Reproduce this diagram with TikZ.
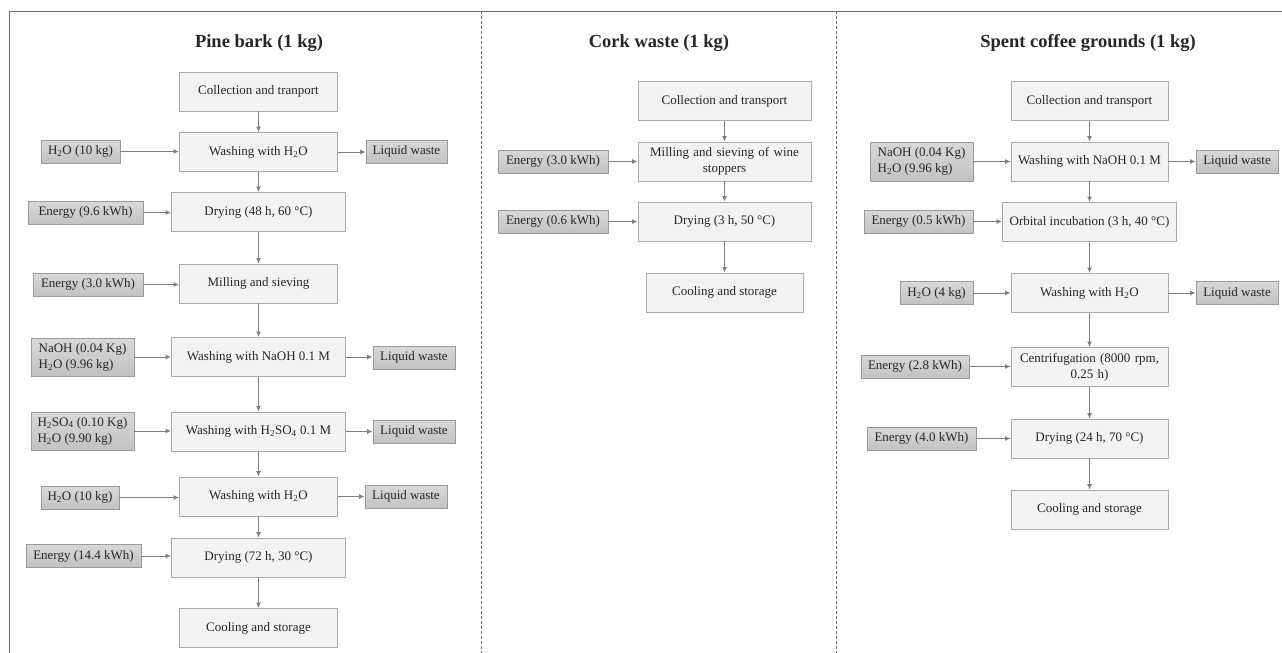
\documentclass[tikz,border=0pt]{standalone}
\usepackage{fontspec}
\setmainfont{Liberation Serif}
\usetikzlibrary{arrows.meta}
\definecolor{procfill}{HTML}{F2F3F3}
\definecolor{procdraw}{HTML}{ABABAB}
\definecolor{inpdraw}{HTML}{9A9A9A}
\definecolor{arrcol}{HTML}{7F7F7F}
\definecolor{txt}{HTML}{262626}
\definecolor{framecol}{HTML}{6E6E6E}
\tikzset{
  proc/.style={draw=procdraw, line width=0.9pt, fill=procfill, inner sep=1pt, align=center,
    font=\fontsize{13}{16}\selectfont, text=txt, minimum height=39pt},
  inp/.style={draw=inpdraw, line width=0.9pt, top color=black!15, bottom color=black!24, inner sep=1pt,
    align=left, font=\fontsize{13}{16}\selectfont, text=txt, minimum height=23pt},
  title/.style={font=\bfseries\fontsize{18.5}{20}\selectfont, text=txt},
  arr/.style={draw=arrcol, line width=1pt, -{Latex[length=5.5pt,width=5pt]}},
  sep/.style={draw=framecol, line width=0.9pt, dash pattern=on 2.6pt off 2.4pt},
  frame/.style={draw=framecol, line width=1pt}
}
\newcommand{\HtwoO}{H\textsubscript{2}O}
\begin{document}
\begin{tikzpicture}[x=1pt,y=-1pt]
\useasboundingbox (0,0) rectangle (1282,653);
\fill[white] (0,0) rectangle (1282,653);
% frame
\coordinate (ftl) at (9,11);
\coordinate (ftr) at (1282,11);
\coordinate (fbl) at (9,653);
\draw[frame] (ftr) -- (ftl) -- (fbl);
\coordinate (d1t) at (481,11); \coordinate (d1b) at (481,653);
\coordinate (d2t) at (836,11); \coordinate (d2b) at (836,653);
\draw[sep] (d1t) -- (d1b);
\draw[sep] (d2t) -- (d2b);

% ---------------- Pine bark
\node[title] (tp) at (259,43) {Pine bark (1 kg)};
\node[proc, minimum width=158pt] (p1) at (258.5,91.5) {Collection and tranport};
\node[proc, minimum width=158pt] (p2) at (258.5,152) {Washing with \HtwoO};
\node[proc, minimum width=174pt] (p3) at (258.5,212) {Drying (48 h, 60 °C)};
\node[proc, minimum width=158pt] (p4) at (258.5,283.5) {Milling and sieving};
\node[proc, minimum width=174pt] (p5) at (258.5,357) {Washing with NaOH 0.1 M};
\node[proc, minimum width=174pt] (p6) at (258.5,431.5) {Washing with H\textsubscript{2}SO\textsubscript{4} 0.1 M};
\node[proc, minimum width=158pt] (p7) at (258.5,496.5) {Washing with \HtwoO};
\node[proc, minimum width=174pt] (p8) at (258.5,557.5) {Drying (72 h, 30 °C)};
\node[proc, minimum width=158pt] (p9) at (258.5,628) {Cooling and storage};

\node[inp, minimum width=79pt] (i2) at (80.5,151.5) {\HtwoO{} (10 kg)};
\node[inp, minimum width=115pt] (i3) at (85.5,212.5) {Energy (9.6 kWh)};
\node[inp, minimum width=110pt] (i4) at (88,284.5) {Energy (3.0 kWh)};
\node[inp, minimum width=103pt, minimum height=38pt] (i5) at (82.5,357) {NaOH (0.04 Kg)\\\HtwoO{} (9.96 kg)};
\node[inp, minimum width=103pt, minimum height=38pt] (i6) at (82.5,431) {H\textsubscript{2}SO\textsubscript{4} (0.10 Kg)\\\HtwoO{} (9.90 kg)};
\node[inp, minimum width=78pt] (i7) at (80,497.5) {\HtwoO{} (10 kg)};
\node[inp, minimum width=115pt] (i8) at (83.5,556) {Energy (14.4 kWh)};

\node[inp, minimum width=81pt] (w2) at (406.5,151.5) {Liquid waste};
\node[inp, minimum width=82pt] (w5) at (414,357.5) {Liquid waste};
\node[inp, minimum width=82pt] (w6) at (414,431.5) {Liquid waste};
\node[inp, minimum width=82pt] (w7) at (406,496.5) {Liquid waste};

\foreach \a/\b in {p1/p2,p2/p3,p3/p4,p4/p5,p5/p6,p6/p7,p7/p8,p8/p9}
  \draw[arr] (\a.south) -- (\a.south |- \b.north);
\foreach \a/\b in {i2/p2,i3/p3,i4/p4,i5/p5,i6/p6,i7/p7,i8/p8}
  \draw[arr] (\a.east) -- (\a.east -| \b.west);
\foreach \a/\b in {p2/w2,p5/w5,p6/w6,p7/w7}
  \draw[arr] (\a.east) -- (\a.east -| \b.west);

% ---------------- Cork waste
\node[title] (tc) at (659,43) {Cork waste (1 kg)};
\node[proc, minimum width=173pt] (c1) at (724.5,101) {Collection and transport};
\node[proc, minimum width=173pt, text width=165pt] (c2) at (724.5,161.5) {Milling and sieving of wine\\stoppers};
\node[proc, minimum width=173pt] (c3) at (724.5,221.5) {Drying (3 h, 50 °C)};
\node[proc, minimum width=157pt] (c4) at (724.5,292.5) {Cooling and storage};
\node[inp, minimum width=110pt] (e2) at (553,161.5) {Energy (3.0 kWh)};
\node[inp, minimum width=110pt] (e3) at (553,221.5) {Energy (0.6 kWh)};
\foreach \a/\b in {c1/c2,c2/c3,c3/c4}
  \draw[arr] (\a.south) -- (\a.south |- \b.north);
\foreach \a/\b in {e2/c2,e3/c3}
  \draw[arr] (\a.east) -- (\a.east -| \b.west);

% ---------------- Spent coffee grounds
\node[title] (ts) at (1088,43) {Spent coffee grounds (1 kg)};
\node[proc, minimum width=157pt] (s1) at (1089.5,101) {Collection and transport};
\node[proc, minimum width=157pt] (s2) at (1089.5,161.5) {Washing with NaOH 0.1 M};
\node[proc, minimum width=174pt] (s3) at (1089.5,222) {Orbital incubation (3 h, 40 °C)};
\node[proc, minimum width=157pt] (s4) at (1089.5,293) {Washing with \HtwoO};
\node[proc, minimum width=157pt, text width=150pt] (s5) at (1089.5,367) {Centrifugation (8000 rpm,\\0.25 h)};
\node[proc, minimum width=157pt] (s6) at (1089.5,438.5) {Drying (24 h, 70 °C)};
\node[proc, minimum width=157pt] (s7) at (1089.5,509.5) {Cooling and storage};

\node[inp, minimum width=103pt, minimum height=39pt] (j2) at (921.5,161.5) {NaOH (0.04 Kg)\\\HtwoO{} (9.96 kg)};
\node[inp, minimum width=109pt] (j3) at (918.5,221.5) {Energy (0.5 kWh)};
\node[inp, minimum width=73pt] (j4) at (936.5,293) {\HtwoO{} (4 kg)};
\node[inp, minimum width=108pt] (j5) at (915,366.5) {Energy (2.8 kWh)};
\node[inp, minimum width=109pt] (j6) at (921.5,438.5) {Energy (4.0 kWh)};
\node[inp, minimum width=82pt] (v2) at (1237,161.5) {Liquid waste};
\node[inp, minimum width=82pt] (v4) at (1237,293) {Liquid waste};

\foreach \a/\b in {s1/s2,s2/s3,s3/s4,s4/s5,s5/s6,s6/s7}
  \draw[arr] (\a.south) -- (\a.south |- \b.north);
\foreach \a/\b in {j2/s2,j3/s3,j4/s4,j5/s5,j6/s6}
  \draw[arr] (\a.east) -- (\a.east -| \b.west);
\foreach \a/\b in {s2/v2,s4/v4}
  \draw[arr] (\a.east) -- (\a.east -| \b.west);
\end{tikzpicture}
\end{document}
